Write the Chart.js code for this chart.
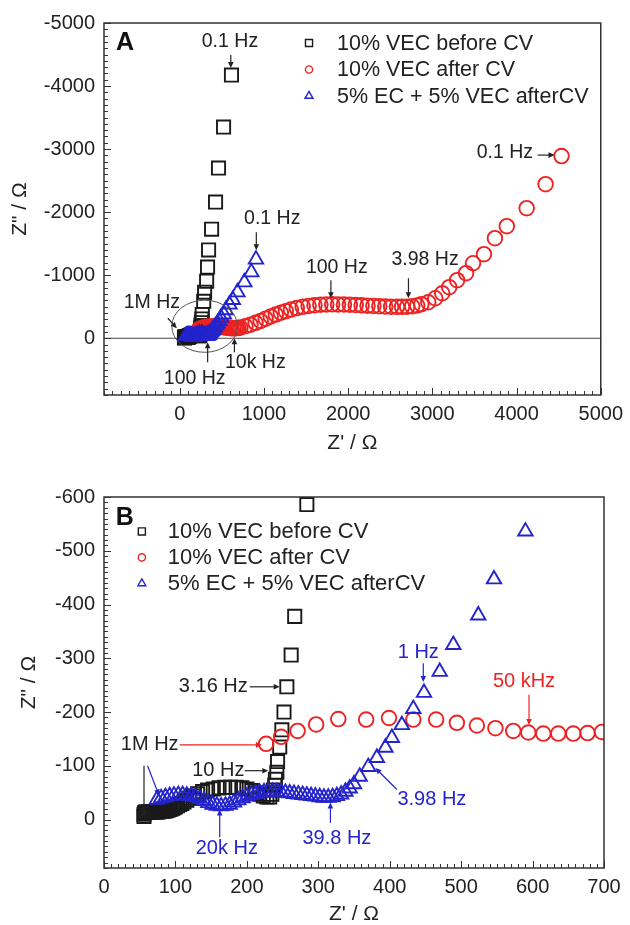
<!DOCTYPE html>
<html>
<head>
<meta charset="utf-8">
<script src="https://cdn.jsdelivr.net/npm/chart.js@4.4.1/dist/chart.umd.min.js"></script>
<style>
  body { margin: 0; background: #fff; }
  canvas { display: block; }
</style>
</head>
<body>
<canvas id="chartA" width="630" height="460"></canvas>
<canvas id="chartB" width="630" height="465"></canvas>
<script>
// series names
const seriesNames = ['10% VEC before CV', '10% VEC after CV', '5% EC + 5% VEC afterCV'];

// 10% VEC before CV : Z' and Z'' (ohm)
const beforeRe = [56,56,57,58,60,62,64,66,68,70,72,74,76,78,80,82,84,86,88,90,92,94,96,98,100,103,106,109,112,116,120,125,131,138,145,153,161,169,177,185,193,200,207,213,218,223,228,232,235,237,239,240,242,243,246,249,252,256,262,267,284,295,319,330,342,378,425,460,520,614];
const beforeIm = [-6,-10,-13,-14,-14,-14,-14,-14,-14,-14,-14,-14,-14,-15,-15,-15,-16,-16,-17,-18,-19,-20,-21,-22,-24,-26,-28,-30,-33,-36,-40,-44,-48,-52,-55,-57,-59,-60,-60,-60,-59,-57,-54,-50,-47,-44,-42,-42,-47,-55,-64,-75,-88,-108,-135,-167,-200,-247,-306,-378,-586,-730,-905,-1130,-1400,-1730,-2160,-2700,-3350,-4175];

// 10% VEC after CV
const afterRe = [227,248,271,297,328,367,399,433,465,494,522,548,573,594,615,636,657,677,697,720,780,840,900,960,1020,1080,1140,1200,1260,1320,1390,1460,1530,1600,1670,1740,1810,1880,1950,2020,2090,2160,2230,2300,2370,2440,2510,2580,2640,2700,2760,2820,2869,2951,3034,3117,3200,3294,3400,3483,3613,3743,3884,4120,4345,4534];
const afterIm = [-141,-154,-165,-177,-187,-186,-189,-186,-186,-180,-175,-170,-165,-162,-160,-160,-160,-161,-163,-170,-190,-215,-245,-275,-310,-345,-375,-405,-430,-455,-478,-498,-512,-523,-531,-536,-538,-537,-535,-531,-527,-522,-517,-512,-507,-503,-500,-498,-498,-500,-507,-520,-540,-571,-635,-714,-810,-921,-1032,-1190,-1333,-1587,-1778,-2063,-2444,-2889];

// 5% EC + 5% VEC after CV
const mixRe = [74,80,86,92,98,104,110,116,122,128,134,140,146,152,158,164,170,176,182,188,194,200,206,212,218,224,230,236,242,248,254,260,266,272,278,284,290,296,302,308,314,320,326,332,338,344,350,358,370,382,394,403,417,433,448,470,489,524,546,590,630,685,767,850,905];
const mixIm = [-37,-40,-42,-44,-45,-46,-46,-45,-44,-42,-39,-35,-31,-28,-26,-25,-26,-28,-32,-36,-40,-43,-46,-48,-50,-51,-52,-52,-52,-51,-50,-49,-48,-47,-46,-45,-44,-43,-42,-41,-41,-42,-44,-47,-52,-58,-66,-80,-98,-115,-134,-152,-176,-206,-236,-275,-325,-380,-447,-536,-610,-730,-889,-1048,-1250];

// tick labels
const xTicksA = [0, 1000, 2000, 3000, 4000, 5000];
const yTicksA = [-5000, -4000, -3000, -2000, -1000, 0];
const xTicksB = [0, 100, 200, 300, 400, 500, 600, 700];
const yTicksB = [-600, -500, -400, -300, -200, -100, 0];

const BLACK = '#1a1a1a', RED = '#ee2222', BLUE = '#2424cc', INK = '#222';
const FONT = '"Liberation Sans", Arial, sans-serif';

Chart.defaults.font.family = FONT;
Chart.defaults.color = INK;

function pts(xs, ys) { return xs.map((x, i) => ({ x: x, y: ys[i] })); }

function makeDatasets(clip) {
  const mk = (label, xs, ys, style, r, color, order) => ({
    label: label, data: pts(xs, ys), order: order, clip: clip,
    pointStyle: style, pointRadius: r, pointHoverRadius: r,
    pointBorderColor: color, pointBackgroundColor: 'rgba(0,0,0,0)', pointBorderWidth: 1.9,
    borderColor: color, backgroundColor: 'rgba(0,0,0,0)'
  });
  return [
    mk(seriesNames[0], beforeRe, beforeIm, 'rect', 9.3, BLACK, 2),
    mk(seriesNames[1], afterRe, afterIm, 'circle', 7.3, RED, 1),
    mk(seriesNames[2], mixRe, mixIm, 'triangle', 8.3, BLUE, 0)
  ];
}

function drawMarker(ctx, style, x, y, r, color) {
  ctx.strokeStyle = color; ctx.lineWidth = 1.4; ctx.beginPath();
  if (style === 'rect') { const s = r * Math.SQRT1_2; ctx.rect(x - s, y - s, 2 * s, 2 * s); }
  else if (style === 'circle') ctx.arc(x, y, r, 0, Math.PI * 2);
  else { ctx.moveTo(x, y - r); ctx.lineTo(x + 0.866 * r, y + 0.5 * r); ctx.lineTo(x - 0.866 * r, y + 0.5 * r); ctx.closePath(); }
  ctx.stroke();
}

function drawArrow(ctx, x1, y1, x2, y2, color) {
  const ang = Math.atan2(y2 - y1, x2 - x1), h = 6, w = 2.8;
  ctx.strokeStyle = color; ctx.fillStyle = color; ctx.lineWidth = 1.2;
  ctx.beginPath(); ctx.moveTo(x1, y1);
  ctx.lineTo(x2 - Math.cos(ang) * h * 0.7, y2 - Math.sin(ang) * h * 0.7); ctx.stroke();
  ctx.beginPath(); ctx.moveTo(x2, y2);
  ctx.lineTo(x2 - h * Math.cos(ang) + w * Math.sin(ang), y2 - h * Math.sin(ang) - w * Math.cos(ang));
  ctx.lineTo(x2 - h * Math.cos(ang) - w * Math.sin(ang), y2 - h * Math.sin(ang) + w * Math.cos(ang));
  ctx.closePath(); ctx.fill();
}

// frame, inner ticks, labels, arrows, legend
function makeDecor(cfg) {
  return {
    id: 'decor',
    beforeDatasetsDraw(chart) {
      if (!cfg.zeroLine) return;
      const { ctx, chartArea: a, scales: { y } } = chart;
      const py = y.getPixelForValue(0);
      ctx.save(); ctx.strokeStyle = '#444'; ctx.lineWidth = 1;
      ctx.beginPath(); ctx.moveTo(a.left, py); ctx.lineTo(a.right, py); ctx.stroke();
      ctx.restore();
    },
    afterDatasetsDraw(chart) {
      const { ctx, chartArea: a, scales: { x, y } } = chart;
      ctx.save();
      // frame
      ctx.strokeStyle = '#333'; ctx.lineWidth = 1.5;
      ctx.strokeRect(a.left, a.top, a.right - a.left, a.bottom - a.top);
      // inward minor / major ticks
      ctx.lineWidth = 1; ctx.strokeStyle = '#333';
      ctx.beginPath();
      for (let i = Math.ceil(x.min / cfg.step.x); i * cfg.step.x <= x.max; i++) {
        const v = i * cfg.step.x, px = Math.round(x.getPixelForValue(v)) + 0.5;
        const len = v % cfg.step.mx === 0 ? 7 : 4;
        ctx.moveTo(px, a.bottom); ctx.lineTo(px, a.bottom - len);
      }
      for (let i = Math.ceil(y.min / cfg.step.y); i * cfg.step.y <= y.max; i++) {
        const v = i * cfg.step.y, py = Math.round(y.getPixelForValue(v)) + 0.5;
        const len = v % cfg.step.my === 0 ? 7 : 4;
        ctx.moveTo(a.left, py); ctx.lineTo(a.left + len, py);
      }
      ctx.stroke();
      // ellipse
      if (cfg.ellipse) {
        const e = cfg.ellipse;
        const cx = x.getPixelForValue(e.x), cy = y.getPixelForValue(e.y);
        const rx = Math.abs(x.getPixelForValue(e.x + e.rx) - cx);
        const ry = Math.abs(y.getPixelForValue(e.y + e.ry) - cy);
        ctx.strokeStyle = '#555'; ctx.lineWidth = 1;
        ctx.beginPath(); ctx.ellipse(cx, cy, rx, ry, 0, 0, Math.PI * 2); ctx.stroke();
      }
      // arrows
      cfg.arrows.forEach(ar => drawArrow(ctx, x.getPixelForValue(ar[0]), y.getPixelForValue(ar[1]),
        x.getPixelForValue(ar[2]), y.getPixelForValue(ar[3]), ar[4] || INK));
      // notes
      ctx.textAlign = 'center'; ctx.textBaseline = 'middle';
      ctx.font = cfg.noteSize + 'px ' + FONT;
      cfg.notes.forEach(n => {
        ctx.fillStyle = n.color || INK;
        ctx.fillText(n.text, x.getPixelForValue(n.x), y.getPixelForValue(n.y));
      });
      // panel letter
      ctx.font = 'bold 25px ' + FONT;
      ctx.fillStyle = '#111';
      ctx.fillText(cfg.letter.text, x.getPixelForValue(cfg.letter.x), y.getPixelForValue(cfg.letter.y));
      // legend
      const lx = x.getPixelForValue(cfg.legend.x), ly = y.getPixelForValue(cfg.legend.y);
      const small = { rect: 5, circle: 3.6, triangle: 4.6 };
      ctx.font = cfg.legend.size + 'px ' + FONT;
      ctx.textAlign = 'left';
      chart.data.datasets.forEach((ds, i) => {
        const row = ly + i * cfg.legend.gap;
        drawMarker(ctx, ds.pointStyle, lx, row, small[ds.pointStyle], ds.pointBorderColor);
        ctx.fillStyle = INK;
        ctx.fillText(ds.label, lx + cfg.legend.dx, row + 1);
      });
      ctx.restore();
    }
  };
}

function axis(min, max, ticks, rev, fitKey, fitVal, title, titlePad, tickPad) {
  return {
    type: 'linear', min: min, max: max, reverse: rev,
    afterBuildTicks: s => { s.ticks = ticks.map(v => ({ value: v })); },
    afterFit: s => { s[fitKey] = fitVal; },
    grid: { display: false, drawTicks: false },
    border: { display: false },
    ticks: { font: { size: 20 }, color: INK, padding: tickPad, autoSkip: false, maxRotation: 0,
      callback: v => String(v) },
    title: { display: true, text: title, font: { size: 21 }, color: INK, padding: titlePad }
  };
}

// panel A
new Chart(document.getElementById('chartA'), {
  type: 'scatter',
  data: { datasets: makeDatasets(false) },
  options: {
    responsive: false, animation: false, events: [],
    layout: { padding: { top: 23, right: 26, left: 0, bottom: 0 } },
    plugins: { legend: { display: false }, tooltip: { enabled: false } },
    scales: {
      x: axis(-900, 5000, xTicksA, false, 'height', 65, "Z' / Ω", { top: 0, bottom: 4 }, 7),
      y: axis(-5000, 900, yTicksA, true, 'width', 104, 'Z" / Ω', { top: 8, bottom: 0 }, 9)
    }
  },
  plugins: [makeDecor({
    zeroLine: true,
    noteSize: 19.5,
    step: { x: 100, mx: 1000, y: 100, my: 1000 },
    letter: { text: 'A', x: -649, y: -4683 },
    legend: { x: 1535, y: -4683, gap: 26.5, dx: 28, size: 21.5 },
    ellipse: { x: 295, y: -190, rx: 390, ry: 413 },
    notes: [
      { text: '0.1 Hz', x: 596, y: -4698 },
      { text: '0.1 Hz', x: 1098, y: -1905 },
      { text: '0.1 Hz', x: 3861, y: -2952 },
      { text: '100 Hz', x: 1865, y: -1127 },
      { text: '3.98 Hz', x: 2913, y: -1249 },
      { text: '1M Hz', x: -331, y: -571 },
      { text: '100 Hz', x: 177, y: 635 },
      { text: '10k Hz', x: 897, y: 381 }
    ],
    arrows: [
      [606, -4492, 606, -4286],
      [909, -1683, 909, -1397],
      [4250, -2905, 4451, -2905],
      [1795, -921, 1795, -635],
      [2716, -952, 2716, -635],
      [-142, -317, -35, -159],
      [331, 381, 331, 63],
      [649, 222, 649, 0]
    ]
  })]
});

// panel B
new Chart(document.getElementById('chartB'), {
  type: 'scatter',
  data: { datasets: makeDatasets(0) },
  options: {
    responsive: false, animation: false, events: [],
    layout: { padding: { top: 37, right: 26, left: 0, bottom: 0 } },
    plugins: { legend: { display: false }, tooltip: { enabled: false } },
    scales: {
      x: axis(0, 700, xTicksB, false, 'height', 57, "Z' / Ω", { top: 0, bottom: -2 }, 7),
      y: axis(-600, 90, yTicksB, true, 'width', 104, 'Z" / Ω', { top: 17, bottom: 0 }, 9)
    }
  },
  plugins: [makeDecor({
    zeroLine: false,
    noteSize: 20,
    step: { x: 10, mx: 100, y: 10, my: 100 },
    letter: { text: 'B', x: 29, y: -560 },
    legend: { x: 53, y: -536, gap: 26, dx: 26, size: 22 },
    notes: [
      { text: '3.16 Hz', x: 153, y: -247 },
      { text: '1M Hz', x: 64, y: -139 },
      { text: '10 Hz', x: 160, y: -91 },
      { text: '20k Hz', x: 172, y: 54, color: BLUE },
      { text: '39.8 Hz', x: 326, y: 35, color: BLUE },
      { text: '3.98 Hz', x: 459, y: -37, color: BLUE },
      { text: '1 Hz', x: 440, y: -310, color: BLUE },
      { text: '50 kHz', x: 588, y: -256, color: RED }
    ],
    arrows: [
      [204, -247, 246, -247],
      [106, -139, 221, -139, RED],
      [56, -100, 56, -6],
      [61, -100, 77, -45, BLUE],
      [197, -91, 230, -91],
      [162, 33, 162, -19, BLUE],
      [317, 6, 317, -32, BLUE],
      [410, -56, 380, -96, BLUE],
      [447, -291, 447, -256, BLUE],
      [595, -232, 595, -176, RED]
    ]
  })]
});
</script>
</body>
</html>
